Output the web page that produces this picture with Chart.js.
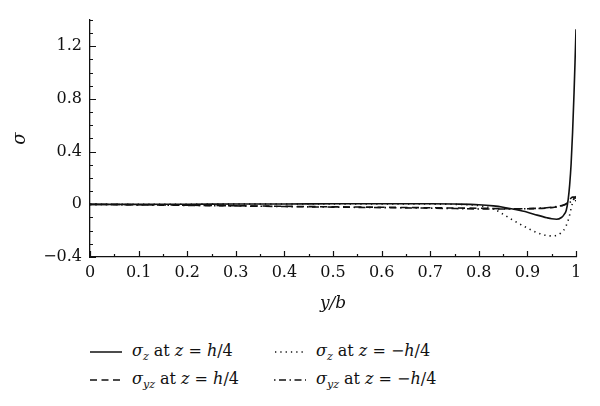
<!DOCTYPE html>
<html>
<head>
<meta charset="utf-8">
<title>Stress along y/b</title>
<script src="https://cdn.jsdelivr.net/npm/chart.js"></script>
<style>
  body { margin: 0; background: #fff; }
  #wrap { position: relative; width: 600px; height: 406px; }
  #chart { position: absolute; left: 0; top: 0; }
  .item { position: absolute; font-family: "DejaVu Serif", "Liberation Serif", serif; font-size: 16px; color: #111; white-space: nowrap; line-height: 20px; }
  .item svg { vertical-align: middle; margin-right: 10px; }
  .item sub { font-size: 11px; vertical-align: -4px; line-height: 0; }
</style>
</head>
<body>
<div id="wrap">
  <canvas id="chart" width="600" height="314"></canvas>
  <div class="item" style="left:90px; top:341px;">
    <svg width="32" height="6"><line x1="0" y1="3" x2="32" y2="3" stroke="#111" stroke-width="1.5"/></svg><i>σ<sub>z</sub></i> at <i>z</i> = <i>h</i>/4
  </div>
  <div class="item" style="left:274px; top:341px;">
    <svg width="32" height="6"><line x1="1" y1="3" x2="32" y2="3" stroke="#111" stroke-width="1.5" stroke-dasharray="1.3 4"/></svg><i>σ<sub>z</sub></i> at <i>z</i> = −<i>h</i>/4
  </div>
  <div class="item" style="left:90px; top:369px;">
    <svg width="32" height="6"><line x1="0" y1="3" x2="32" y2="3" stroke="#111" stroke-width="1.5" stroke-dasharray="7 4.5"/></svg><i>σ<sub>yz</sub></i> at <i>z</i> = <i>h</i>/4
  </div>
  <div class="item" style="left:274px; top:369px;">
    <svg width="32" height="6"><line x1="0" y1="3" x2="32" y2="3" stroke="#111" stroke-width="1.5" stroke-dasharray="1.5 3.5 7 3.5"/></svg><i>σ<sub>yz</sub></i> at <i>z</i> = −<i>h</i>/4
  </div>
</div>
<script>
// y/b positions shared by all four curves
var yb = [0, 0.1, 0.2, 0.3, 0.4, 0.5, 0.6, 0.7, 0.75, 0.8, 0.83, 0.85, 0.87, 0.9, 0.92, 0.94, 0.95, 0.96, 0.97, 0.975, 0.98, 0.984, 0.987, 0.99, 0.993, 0.996, 0.998, 1.0];

// sigma_z at z = h/4
var szTop = [0, 0, 0.001, 0.002, 0.003, 0.004, 0.005, 0.004, 0.002, -0.003, -0.012, -0.022, -0.036, -0.06, -0.082, -0.102, -0.11, -0.113, -0.1, -0.08, -0.045, 0.04, 0.15, 0.31, 0.55, 0.85, 1.08, 1.33];
// sigma_z at z = -h/4
var szBot = [0, 0, 0.001, 0.002, 0.003, 0.003, 0.003, 0.002, 0, -0.01, -0.035, -0.075, -0.12, -0.18, -0.215, -0.237, -0.24, -0.235, -0.215, -0.195, -0.16, -0.12, -0.08, -0.03, 0.01, 0.045, 0.05, 0.02];
// sigma_yz at z = h/4
var syzTop = [0, -0.003, -0.007, -0.011, -0.015, -0.019, -0.022, -0.026, -0.028, -0.03, -0.032, -0.033, -0.034, -0.034, -0.032, -0.028, -0.025, -0.02, -0.012, -0.005, 0.005, 0.02, 0.035, 0.048, 0.055, 0.055, 0.05, 0.045];
// sigma_yz at z = -h/4
var syzBot = [0, -0.004, -0.008, -0.012, -0.017, -0.021, -0.025, -0.029, -0.032, -0.035, -0.036, -0.036, -0.035, -0.033, -0.03, -0.026, -0.022, -0.017, -0.01, -0.005, 0.0, 0.008, 0.015, 0.022, 0.032, 0.045, 0.055, 0.06];

var yLabels = [-0.4, 0, 0.4, 0.8, 1.2];

function pts(vals) {
  return yb.map(function (x, i) { return { x: x, y: vals[i] }; });
}

function fmt(v) {
  var s = String(Math.round(v * 100) / 100);
  return s.replace('-', '\u2212');
}

var serif = '"DejaVu Serif", "Liberation Serif", serif';
var ink = '#111';

// inward ticks on left and bottom axes
var innerTicks = {
  id: 'innerTicks',
  afterDraw: function (chart) {
    var ctx = chart.ctx, xs = chart.scales.x, ys = chart.scales.y;
    var a = chart.chartArea;
    ctx.save();
    ctx.strokeStyle = ink;
    ctx.lineWidth = 1.2;
    ctx.beginPath();
    for (var i = 0; i <= 20; i++) {
      var px = Math.round(xs.getPixelForValue(i * 0.05)) + 0.5;
      var len = i % 2 === 0 ? 6 : 3;
      ctx.moveTo(px, a.bottom);
      ctx.lineTo(px, a.bottom - len);
    }
    for (var j = -4; j <= 14; j++) {
      var py = Math.round(ys.getPixelForValue(j * 0.1)) + 0.5;
      var l = j % 4 === 0 ? 6 : 3;
      ctx.moveTo(a.left, py);
      ctx.lineTo(a.left + l, py);
    }
    ctx.stroke();
    ctx.restore();
  }
};

var common = { fill: false, pointRadius: 0, borderColor: ink, cubicInterpolationMode: 'monotone' };

new Chart(document.getElementById('chart'), {
  type: 'line',
  data: {
    datasets: [
      Object.assign({ label: 'σz at z = h/4', data: pts(szTop), borderWidth: 1.6 }, common),
      Object.assign({ label: 'σz at z = −h/4', data: pts(szBot), borderWidth: 1.6, borderDash: [1.3, 4] }, common),
      Object.assign({ label: 'σyz at z = h/4', data: pts(syzTop), borderWidth: 1.6, borderDash: [7, 4.5] }, common),
      Object.assign({ label: 'σyz at z = −h/4', data: pts(syzBot), borderWidth: 1.6, borderDash: [1.5, 3.5, 7, 3.5] }, common)
    ]
  },
  options: {
    responsive: false,
    animation: false,
    layout: { padding: { left: 10, right: 24, top: 20, bottom: 0 } },
    plugins: { legend: { display: false }, tooltip: { enabled: false } },
    scales: {
      x: {
        type: 'linear', min: 0, max: 1,
        grid: { display: false, drawTicks: false },
        border: { display: true, color: ink, width: 1.3 },
        ticks: { stepSize: 0.1, autoSkip: false, maxRotation: 0, padding: 6, color: ink,
                 font: { family: serif, size: 16 }, callback: function (v) { return fmt(v); } },
        title: { display: true, text: 'y/b', color: ink, padding: { top: 6, bottom: 0 },
                 font: { family: serif, size: 17, style: 'italic' } },
        afterFit: function (s) { s.height = 57; }
      },
      y: {
        min: -0.4, max: 1.4,
        grid: { display: false, drawTicks: false },
        border: { display: true, color: ink, width: 1.3 },
        ticks: { stepSize: 0.1, autoSkip: false, padding: 8, color: ink,
                 font: { family: serif, size: 16 },
                 callback: function (v) {
                   var r = Math.round(v * 10) / 10;
                   return yLabels.indexOf(r) >= 0 ? fmt(r) : null;
                 } },
        title: { display: true, text: 'σ', color: ink, padding: { top: 0, bottom: 0 },
                 font: { family: serif, size: 18, style: 'italic' } },
        afterFit: function (s) { s.width = 80; }
      }
    }
  },
  plugins: [innerTicks]
});
</script>
</body>
</html>
